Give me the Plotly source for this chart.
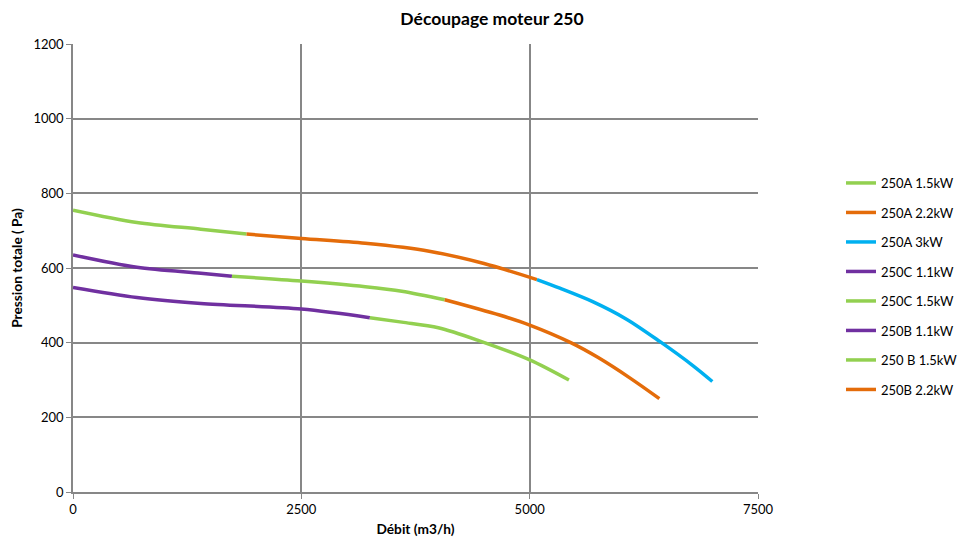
import plotly.graph_objects as go

# Data (débit m3/h, pression Pa)
a15_x = [0, 700, 1400, 1900]
a15_y = [755, 722, 704, 691]
a22_x = [1900, 2500, 3200, 3900, 4500, 5080]
a22_y = [691, 679, 666, 645, 612, 569]
a3_x = [5080, 5330, 5690, 6060, 6420, 6790, 7000]
a3_y = [569, 546, 510, 463, 404, 338, 296]
c11_x = [0, 700, 1400, 2500, 3250]
c11_y = [548, 521, 505, 490, 467]
c15_x = [3250, 3600, 4000, 4450, 5000, 5430]
c15_y = [467, 455, 440, 405, 354, 300]
b11_x = [0, 700, 1400, 1740]
b11_y = [635, 602, 586, 578]
b15_x = [1740, 2500, 3200, 3600, 4070]
b15_y = [578, 565, 550, 538, 515]
b22_x = [4070, 4670, 5000, 5450, 5750, 6100, 6420]
b22_y = [515, 474, 447, 400, 360, 305, 250]

names = ["250A 1.5kW", "250A 2.2kW", "250A 3kW", "250C 1.1kW",
         "250C 1.5kW", "250B 1.1kW", "250 B 1.5kW", "250B 2.2kW"]

GREEN = "#92D050"
ORANGE = "#E46C0A"
BLUE = "#00B0F0"
PURPLE = "#7030A0"

series = [
    (a15_x, a15_y, GREEN),
    (a22_x, a22_y, ORANGE),
    (a3_x, a3_y, BLUE),
    (c11_x, c11_y, PURPLE),
    (c15_x, c15_y, GREEN),
    (b11_x, b11_y, PURPLE),
    (b15_x, b15_y, GREEN),
    (b22_x, b22_y, ORANGE),
]

FONT = "Lato, 'Open Sans', sans-serif"

fig = go.Figure()
for i, ((xs, ys, col), nm) in enumerate(zip(series, names)):
    fig.add_trace(go.Scatter(
        x=xs, y=ys, mode="lines", name=nm, legendgroup=f"g{i}",
        line=dict(color=col, width=3.5, shape="spline", smoothing=0.9),
    ))

GRID = "#878787"
W, H = 960, 539
fig.update_layout(
    width=W, height=H,
    margin=dict(l=65, r=210, t=36, b=55),
    paper_bgcolor="white", plot_bgcolor="white",
    font=dict(family=FONT, size=13, color="#000000"),
    title=dict(text="<b>Découpage moteur 250</b>", x=484 / W, xanchor="center",
               y=1 - 11 / H, yanchor="middle", yref="container",
               font=dict(size=17.5, family=FONT)),
    showlegend=True,
    legend=dict(xref="container", yref="container",
                x=833 / W, xanchor="left", y=1 - 160 / H,
                yanchor="top", tracegroupgap=9.6, font=dict(size=13),
                itemwidth=30, bgcolor="rgba(0,0,0,0)"),
    xaxis=dict(range=[0, 7500], tickvals=[0, 2500, 5000, 7500],
               showgrid=True, gridcolor=GRID, gridwidth=1.5,
               showline=True, linecolor=GRID, linewidth=1.5, mirror=False,
               ticks="outside", ticklen=5, tickcolor=GRID,
               zeroline=False, automargin=False,
               title=dict(text="<b>Débit (m3/h)</b>", font=dict(size=13.7), standoff=8)),
    yaxis=dict(range=[0, 1200], tickvals=[0, 200, 400, 600, 800, 1000, 1200],
               showgrid=True, gridcolor=GRID, gridwidth=1.5,
               showline=True, linecolor=GRID, linewidth=1.5,
               ticks="outside", ticklen=5, tickcolor=GRID,
               zeroline=False, automargin=False,
               title=dict(text="<b>Pression totale ( Pa)</b>", font=dict(size=13.7), standoff=10)),
)

fig.write_html("out.html")
